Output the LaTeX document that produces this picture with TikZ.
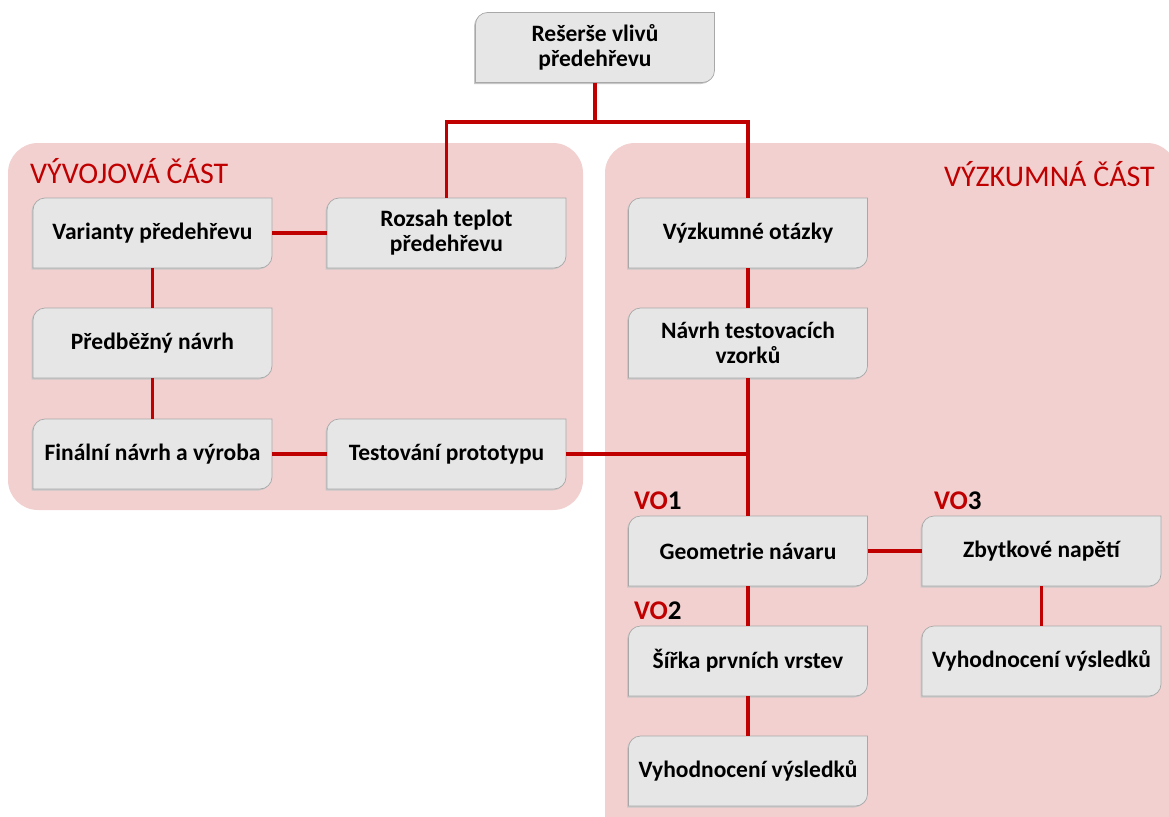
\documentclass[tikz,border=0pt]{standalone}
\usepackage{fontspec}
\setmainfont{Carlito}
\definecolor{cervena}{HTML}{C00000}
\definecolor{ruzova}{HTML}{F2D0D0}
\definecolor{sedafill}{HTML}{E6E6E6}
\definecolor{sedaline}{HTML}{A8A8A8}
\tikzset{
  spoj/.style={cervena, line width=3.4pt},
  oblast/.style={fill=ruzova, rounded corners=30pt},
  blok/.style={align=center, font=\fontsize{23.5}{25}\selectfont\bfseries, inner sep=0pt,
    minimum width=239pt, minimum height=70pt},
  nadpis/.style={cervena, font=\fontsize{30}{34}\selectfont, inner sep=0pt},
  vo/.style={font=\fontsize{27}{30}\selectfont\bfseries, inner sep=0pt, anchor=base west}
}
% box with two rounded corners (top left, bottom right)
\newcommand{\blokpath}[2]{%
  (#1-119.5,#2) [rounded corners=12pt] -- (#1-119.5,#2-35) -- (#1,#2-35)
  [sharp corners] -- (#1+119.5,#2-35) -- (#1+119.5,#2)
  [rounded corners=12pt] -- (#1+119.5,#2+35) -- (#1,#2+35)
  [sharp corners] -- (#1-119.5,#2+35) -- cycle}
\newcommand{\blokkresli}[4]{%
  \fill[black!22] \blokpath{#2-1.5}{#3+1.5};
  \draw[fill=sedafill, draw=sedaline, line width=0.7pt] \blokpath{#2}{#3};
  \node[blok] (#1) at (#2,#3) {#4};}
\begin{document}
\begin{tikzpicture}[x=1pt, y=-1pt]
  \clip (0,0) rectangle (1169,816);
  \fill[white] (0,0) rectangle (1169,816);

  % the two parts
  \fill[oblast] (8,143) rectangle (583,510);
  \fill[oblast] (605,143) rectangle (1177,850);
  \node[nadpis, anchor=base west] (vyvoj) at (30,183) {VÝVOJOVÁ ČÁST};
  \node[nadpis, anchor=base east] (vyzkum) at (1155,186) {VÝZKUMNÁ ČÁST};

  % boxes
  \blokkresli{resers}{595}{47.5}{Rešerše vlivů\\předehřevu}
  \blokkresli{varianty}{152.5}{233}{Varianty předehřevu}
  \blokkresli{rozsah}{446.5}{233}{Rozsah teplot\\předehřevu}
  \blokkresli{predbezny}{152.5}{343}{Předběžný návrh}
  \blokkresli{finalni}{152.5}{454}{Finální návrh a výroba}
  \blokkresli{testovani}{446.5}{454}{Testování prototypu}
  \blokkresli{otazky}{748}{233}{Výzkumné otázky}
  \blokkresli{vzorky}{748}{343}{Návrh testovacích\\vzorků}
  \blokkresli{geometrie}{748}{551}{Geometrie návaru}
  \blokkresli{sirka}{748}{661}{Šířka prvních vrstev}
  \blokkresli{vyhodA}{748}{771}{Vyhodnocení výsledků}
  \blokkresli{zbytkove}{1041.5}{551}{Zbytkové napětí}
  \blokkresli{vyhodB}{1041.5}{661}{Vyhodnocení výsledků}

  % VO labels
  \node[vo] (vo1) at (634,509) {\textcolor{cervena}{VO}1};
  \node[vo] (vo2) at (634,619) {\textcolor{cervena}{VO}2};
  \node[vo] (vo3) at (934,509) {\textcolor{cervena}{VO}3};

  % connections
  \coordinate (rozc) at (595,122);
  \coordinate (uzel) at (748,454);
  \draw[spoj] (resers.south) -- (rozc);
  \draw[spoj] (rozsah.north) |- (rozc);
  \draw[spoj] (otazky.north) |- (rozc);
  \draw[spoj] (varianty.east) -- (rozsah.west);
  \draw[spoj] (varianty.south) -- (predbezny.north);
  \draw[spoj] (predbezny.south) -- (finalni.north);
  \draw[spoj] (finalni.east) -- (testovani.west);
  \draw[spoj] (testovani.east) -- (uzel);
  \draw[spoj] (otazky.south) -- (vzorky.north);
  \draw[spoj] (vzorky.south) -- (geometrie.north);
  \draw[spoj] (geometrie.east) -- (zbytkove.west);
  \draw[spoj] (geometrie.south) -- (sirka.north);
  \draw[spoj] (sirka.south) -- (vyhodA.north);
  \draw[spoj] (zbytkove.south) -- (vyhodB.north);
\end{tikzpicture}
\end{document}
